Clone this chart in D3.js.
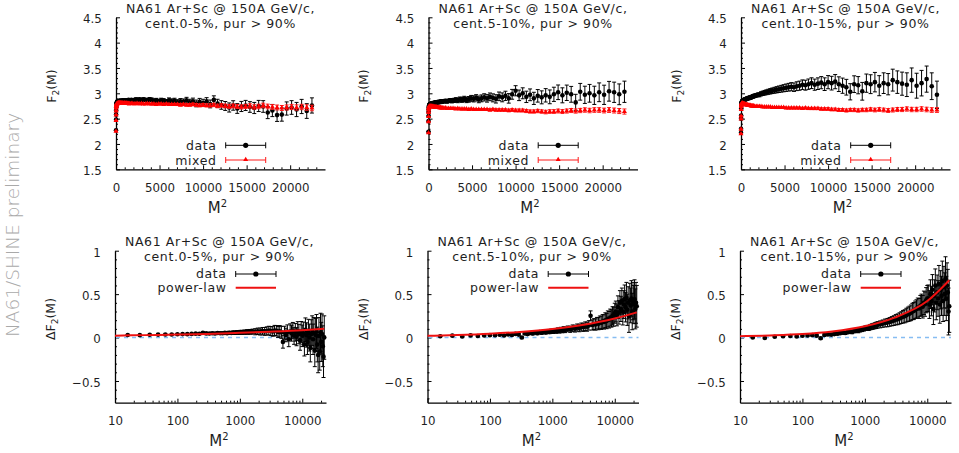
<!DOCTYPE html>
<html>
<head>
<meta charset="utf-8">
<script src="https://d3js.org/d3.v7.min.js"></script>
<style>
body { margin: 0; background: #fff; }
text { font-family: "DejaVu Sans", sans-serif; fill: #1e1e1e; }
.tick text { font-size: 11.8px; }
.domain { stroke: #000; stroke-width: 1.3px; }
.tick line { stroke: #000; }
</style>
</head>
<body>
<div id="chart"></div>
<script>
// M values (M^2 on the x axis)
const Ms = [1,2,3,4,5,6,7,8,9,10,11,12,13,14,15,16,17,18,19,20,21,22,23,24,25,26,27,28,29,30,31,32,33,34,35,36,37,38,39,40,
  42,44,46,48,50,52,54,56,58,60,62,64,66,68,70,72,74,76,78,80,82,84,86,88,90,92,94,96,98,100,
  102,104,106,108,110,112,114,116,118,120,122,124,126,128,130,132,134,136,138,140,142,144,146,148,150];

const centLabels = ["cent.0-5%, pur > 90%", "cent.5-10%, pur > 90%", "cent.10-15%, pur > 90%"];

// ---- F2(M), data ----
const f2Data1 = [2.27,2.48,2.58,2.66,2.72,2.76,2.79,2.80,2.81,2.82,
  2.83,2.83,2.83,2.84,2.84,2.84,2.84,2.85,2.84,2.85,
  2.85,2.84,2.85,2.85,2.84,2.85,2.86,2.85,2.85,2.86,
  2.85,2.86,2.85,2.86,2.86,2.85,2.86,2.87,2.86,2.86,
  2.87,2.86,2.87,2.88,2.87,2.88,2.86,2.88,2.87,2.86,
  2.88,2.87,2.85,2.86,2.84,2.86,2.85,2.83,2.86,2.84,
  2.85,2.82,2.84,2.83,2.86,2.82,2.84,2.80,2.83,2.81,
  2.84,2.79,2.87,2.80,2.77,2.75,2.72,2.76,2.70,2.74,
  2.76,2.73,2.71,2.75,2.74,2.62,2.66,2.57,2.58,2.70,
  2.72,2.68,2.74,2.65,2.76];
const f2DataErr1 = [.005,.005,.005,.005,.005,.006,.006,.006,.007,.007,
  .007,.008,.008,.008,.009,.009,.009,.010,.010,.010,
  .011,.011,.012,.012,.013,.013,.014,.014,.015,.015,
  .016,.016,.017,.017,.018,.018,.019,.020,.020,.021,
  .022,.023,.024,.026,.027,.028,.030,.031,.032,.034,
  .035,.037,.038,.040,.042,.043,.045,.047,.049,.050,
  .052,.054,.056,.058,.060,.062,.065,.067,.069,.072,
  .074,.077,.080,.082,.085,.088,.090,.093,.096,.100,
  .100,.105,.110,.110,.115,.120,.120,.125,.130,.130,
  .135,.140,.140,.145,.150];
const f2Data2 = [2.24,2.45,2.55,2.63,2.68,2.72,2.74,2.76,2.77,2.77,
  2.78,2.78,2.79,2.79,2.79,2.79,2.80,2.80,2.80,2.80,
  2.81,2.80,2.81,2.81,2.81,2.81,2.82,2.81,2.82,2.82,
  2.82,2.82,2.83,2.82,2.83,2.83,2.83,2.84,2.83,2.84,
  2.84,2.85,2.84,2.85,2.86,2.85,2.86,2.87,2.86,2.88,
  2.87,2.89,2.87,2.88,2.90,2.89,2.91,2.88,2.90,2.92,
  2.90,2.93,2.91,2.89,2.94,2.92,2.95,2.90,2.98,3.05,
  2.96,3.00,2.93,2.97,2.90,2.95,2.92,2.96,2.93,2.98,
  3.02,2.96,3.01,2.98,2.82,3.03,2.97,3.00,2.96,3.02,
  2.97,3.04,3.02,2.98,3.03];
const f2DataErr2 = [.005,.005,.005,.006,.006,.006,.007,.007,.007,.008,
  .008,.009,.009,.010,.010,.011,.011,.012,.012,.013,
  .013,.014,.015,.015,.016,.017,.017,.018,.019,.020,
  .020,.021,.022,.023,.024,.025,.026,.027,.028,.029,
  .030,.031,.033,.035,.037,.039,.041,.043,.045,.047,
  .049,.051,.054,.056,.058,.061,.063,.066,.068,.071,
  .074,.076,.079,.082,.085,.088,.091,.094,.097,.100,
  .104,.108,.112,.116,.120,.124,.128,.132,.136,.140,
  .144,.148,.152,.156,.160,.165,.170,.175,.180,.185,
  .190,.195,.200,.205,.210];
const f2Data3 = [2.22,2.30,2.50,2.56,2.70,2.76,2.79,2.81,2.82,2.83,
  2.84,2.84,2.85,2.85,2.86,2.86,2.86,2.87,2.87,2.87,
  2.88,2.88,2.88,2.89,2.89,2.90,2.89,2.90,2.91,2.90,
  2.91,2.92,2.91,2.92,2.93,2.93,2.94,2.94,2.95,2.95,
  2.96,2.97,2.97,2.99,3.00,3.01,3.02,3.03,3.04,3.05,
  3.06,3.07,3.08,3.09,3.10,3.11,3.12,3.13,3.12,3.14,
  3.15,3.17,3.16,3.18,3.20,3.17,3.19,3.21,3.18,3.22,
  3.20,3.23,3.18,3.15,3.12,3.03,3.18,3.16,3.04,3.20,
  3.18,3.22,3.15,3.20,3.18,3.26,3.22,3.19,3.17,3.26,
  3.15,3.20,3.28,3.14,2.97];
const f2DataErr3 = [.005,.005,.006,.006,.006,.007,.007,.008,.008,.009,
  .009,.010,.010,.011,.011,.012,.013,.013,.014,.015,
  .015,.016,.017,.018,.018,.019,.020,.021,.022,.023,
  .024,.025,.026,.027,.028,.029,.030,.031,.032,.033,
  .035,.037,.039,.041,.043,.046,.048,.050,.053,.055,
  .058,.061,.064,.067,.070,.073,.076,.080,.083,.087,
  .090,.094,.098,.102,.106,.110,.115,.120,.125,.130,
  .135,.140,.145,.150,.155,.160,.165,.170,.175,.180,
  .186,.192,.198,.204,.210,.216,.222,.228,.234,.240,
  .246,.252,.258,.264,.270];

// ---- F2(M), mixed events ----
const f2Mix1 = [2.25,2.46,2.57,2.65,2.71,2.74,2.76,2.77,2.78,2.79,
  2.79,2.80,2.80,2.80,2.80,2.80,2.81,2.81,2.80,2.81,
  2.81,2.80,2.81,2.81,2.80,2.81,2.80,2.81,2.80,2.80,
  2.81,2.80,2.80,2.81,2.80,2.80,2.80,2.80,2.79,2.80,
  2.80,2.80,2.79,2.80,2.80,2.79,2.80,2.79,2.79,2.80,
  2.79,2.79,2.79,2.78,2.79,2.79,2.78,2.79,2.78,2.78,
  2.78,2.78,2.77,2.78,2.77,2.77,2.78,2.77,2.76,2.77,
  2.76,2.76,2.77,2.75,2.76,2.75,2.74,2.75,2.74,2.73,
  2.74,2.75,2.73,2.74,2.76,2.74,2.73,2.72,2.71,2.72,
  2.73,2.72,2.73,2.72,2.71];
const f2MixErr1 = [.003,.003,.003,.003,.003,.003,.003,.003,.003,.003,
  .004,.004,.004,.004,.004,.004,.004,.004,.004,.004,
  .005,.005,.005,.005,.005,.005,.005,.005,.005,.005,
  .006,.006,.006,.006,.006,.006,.006,.006,.006,.006,
  .007,.007,.008,.008,.009,.009,.010,.010,.011,.012,
  .012,.013,.014,.015,.015,.016,.017,.018,.019,.020,
  .021,.022,.023,.024,.025,.026,.027,.028,.029,.030,
  .031,.032,.033,.034,.035,.036,.037,.038,.039,.040,
  .041,.042,.043,.044,.045,.046,.047,.048,.049,.050,
  .051,.052,.053,.054,.055];
const f2Mix2 = [2.22,2.44,2.54,2.62,2.67,2.70,2.72,2.73,2.73,2.74,
  2.74,2.74,2.74,2.74,2.74,2.74,2.74,2.74,2.74,2.74,
  2.74,2.73,2.74,2.73,2.73,2.73,2.73,2.73,2.72,2.73,
  2.72,2.72,2.72,2.72,2.72,2.71,2.72,2.71,2.71,2.71,
  2.71,2.71,2.70,2.70,2.70,2.70,2.70,2.69,2.70,2.69,
  2.69,2.69,2.69,2.68,2.69,2.68,2.68,2.68,2.68,2.68,
  2.68,2.67,2.68,2.67,2.67,2.67,2.67,2.66,2.67,2.66,
  2.66,2.66,2.65,2.64,2.64,2.65,2.64,2.63,2.64,2.64,
  2.65,2.64,2.65,2.66,2.65,2.66,2.67,2.66,2.67,2.67,
  2.66,2.67,2.66,2.65,2.64];
const f2MixErr2 = [.003,.003,.003,.003,.003,.003,.003,.003,.003,.004,
  .004,.004,.004,.004,.004,.004,.004,.005,.005,.005,
  .005,.005,.005,.005,.005,.006,.006,.006,.006,.006,
  .006,.006,.007,.007,.007,.007,.007,.007,.007,.008,
  .008,.008,.009,.009,.010,.010,.011,.011,.012,.012,
  .013,.014,.014,.015,.016,.016,.017,.018,.019,.019,
  .020,.021,.022,.023,.023,.024,.025,.026,.027,.028,
  .029,.030,.031,.031,.032,.033,.034,.035,.036,.037,
  .038,.039,.040,.040,.041,.042,.043,.044,.045,.046,
  .047,.048,.049,.050,.051];
const f2Mix3 = [2.20,2.29,2.49,2.55,2.68,2.74,2.77,2.78,2.79,2.80,
  2.80,2.80,2.80,2.80,2.80,2.79,2.79,2.79,2.79,2.79,
  2.78,2.78,2.78,2.78,2.77,2.77,2.77,2.77,2.76,2.76,
  2.76,2.76,2.76,2.75,2.75,2.75,2.75,2.75,2.74,2.74,
  2.74,2.74,2.74,2.74,2.73,2.73,2.73,2.73,2.73,2.72,
  2.72,2.72,2.72,2.72,2.72,2.71,2.71,2.71,2.71,2.71,
  2.71,2.70,2.71,2.70,2.70,2.70,2.70,2.69,2.69,2.69,
  2.68,2.68,2.67,2.67,2.66,2.67,2.67,2.66,2.67,2.67,
  2.68,2.67,2.68,2.67,2.66,2.67,2.68,2.68,2.69,2.68,
  2.68,2.69,2.68,2.67,2.67];
const f2MixErr3 = [.003,.003,.003,.003,.003,.003,.003,.003,.003,.003,
  .003,.004,.004,.004,.004,.004,.004,.004,.004,.004,
  .005,.005,.005,.005,.005,.005,.005,.005,.005,.006,
  .006,.006,.006,.006,.006,.006,.006,.007,.007,.007,
  .007,.008,.008,.009,.009,.010,.010,.011,.011,.012,
  .012,.013,.013,.014,.015,.015,.016,.017,.017,.018,
  .019,.020,.020,.021,.022,.023,.023,.024,.025,.026,
  .027,.027,.028,.029,.030,.031,.032,.032,.033,.034,
  .035,.036,.037,.037,.038,.039,.040,.041,.042,.043,
  .043,.044,.045,.046,.047];

// ---- Delta F2(M), from M = 4 (M^2 = 16) on ----
const dF1 = [0.030,0.028,0.032,0.034,0.036,0.035,0.038,
  0.040,0.039,0.042,0.045,0.043,0.055,0.048,0.046,0.050,0.047,
  0.052,0.050,0.049,0.054,0.051,0.056,0.053,0.058,0.055,0.060,
  0.057,0.062,0.059,0.064,0.061,0.066,0.063,0.068,0.065,0.070,
  0.067,0.072,0.069,0.074,0.071,0.076,0.080,0.075,0.070,0.082,
  0.078,0.065,0.072,0.060,-0.050,0.055,0.030,0.065,-0.020,0.070,
  0.050,0.080,0.020,0.060,0.010,0.075,0.040,-0.030,0.065,0.020,
  0.050,-0.080,0.090,0.030,-0.050,0.060,0.000,-0.120,0.040,0.080,
  -0.020,0.050,-0.150,0.030,0.070,-0.080,-0.200,0.020,-0.160,0.060,
  -0.050,0.040,-0.100,-0.220,0.000];
const dFErr1 = [.005,.005,.006,.006,.007,.007,.008,
  .008,.009,.009,.010,.010,.011,.011,.012,.012,.013,
  .013,.014,.014,.015,.016,.016,.017,.018,.018,.019,
  .020,.021,.021,.022,.023,.024,.025,.025,.026,.027,
  .035,.037,.040,.042,.045,.047,.050,.052,.055,.058,
  .060,.063,.066,.069,.072,.075,.078,.081,.085,.088,
  .091,.094,.098,.101,.104,.108,.112,.116,.120,.124,
  .128,.132,.136,.140,.145,.150,.155,.160,.165,.170,
  .175,.180,.185,.190,.195,.200,.205,.210,.215,.220,
  .225,.230,.235,.240,.250];
const dF2 = [0.015,0.022,0.012,0.025,0.018,0.024,0.028,
  0.026,0.032,0.024,0.036,0.030,0.042,0.034,0.000,0.048,0.040,
  0.052,0.046,0.058,0.050,0.062,0.055,0.066,0.060,0.070,0.065,
  0.075,0.070,0.080,0.074,0.085,0.078,0.090,0.084,0.095,0.088,
  0.100,0.095,0.108,0.102,0.115,0.110,0.122,0.118,0.130,0.125,
  0.140,0.250,0.145,0.155,0.150,0.165,0.160,0.175,0.170,0.185,
  0.180,0.200,0.190,0.215,0.205,0.230,0.220,0.250,0.240,0.280,
  0.300,0.260,0.350,0.290,0.400,0.330,0.420,0.300,0.380,0.440,
  0.350,0.460,0.320,0.400,0.250,0.430,0.370,0.450,0.300,0.420,
  0.380,0.440,0.330,0.400,0.360];
const dFErr2 = [.006,.006,.007,.007,.008,.008,.009,
  .009,.010,.010,.011,.011,.012,.012,.013,.013,.014,
  .015,.015,.016,.017,.017,.018,.019,.020,.020,.021,
  .022,.023,.024,.025,.026,.027,.028,.029,.030,.031,
  .033,.035,.037,.039,.041,.043,.045,.047,.050,.052,
  .054,.057,.059,.062,.065,.067,.070,.073,.076,.079,
  .082,.085,.088,.092,.095,.098,.100,.105,.110,.115,
  .120,.125,.130,.135,.140,.145,.150,.155,.160,.165,
  .170,.175,.180,.185,.190,.195,.200,.205,.210,.215,
  .220,.225,.230,.235,.240];
const dF3 = [0.000,-0.005,0.010,0.015,0.018,0.012,0.020,
  0.024,0.028,0.022,-0.008,0.030,0.036,0.034,0.040,0.045,0.050,
  0.056,0.052,0.062,0.068,0.064,0.075,0.080,0.078,0.088,0.094,
  0.100,0.108,0.112,0.110,0.120,0.126,0.130,0.136,0.140,0.146,
  0.152,0.160,0.168,0.172,0.180,0.188,0.195,0.205,0.210,0.220,
  0.230,0.240,0.245,0.258,0.268,0.275,0.285,0.300,0.305,0.320,
  0.330,0.345,0.335,0.365,0.375,0.355,0.400,0.385,0.430,0.450,
  0.450,0.380,0.500,0.420,0.550,0.330,0.480,0.600,0.400,0.520,
  0.450,0.620,0.380,0.550,0.480,0.650,0.420,0.580,0.500,0.680,
  0.450,0.600,0.520,0.300,0.360];
const dFErr3 = [.006,.007,.007,.008,.008,.009,.009,
  .010,.010,.011,.012,.012,.013,.014,.014,.015,.016,
  .017,.017,.018,.019,.020,.021,.022,.023,.024,.025,
  .026,.027,.028,.029,.031,.032,.033,.034,.036,.037,
  .040,.042,.045,.048,.050,.053,.056,.059,.062,.065,
  .068,.072,.075,.079,.082,.086,.090,.094,.098,.100,
  .105,.110,.115,.120,.125,.130,.135,.140,.145,.150,
  .155,.160,.165,.170,.175,.180,.185,.190,.195,.200,
  .205,.210,.215,.220,.225,.230,.235,.240,.245,.250,
  .255,.260,.265,.270,.300];

// ---- power-law fits, read at these M^2 ----
const fitM2 = [10, 30, 100, 300, 1000, 3000, 10000, 22500];
const fit1 = [0.022, 0.028, 0.034, 0.042, 0.054, 0.067, 0.084, 0.100];
const fit2 = [0.020, 0.029, 0.044, 0.065, 0.099, 0.145, 0.220, 0.290];
const fit3 = [0.015, 0.024, 0.040, 0.070, 0.130, 0.230, 0.420, 0.660];

const topTicksX = [0, 5000, 10000, 15000, 20000];
const topTicksY = [1.5, 2, 2.5, 3, 3.5, 4, 4.5];
const botTicksX = [10, 100, 1000, 10000];
const botTicksY = [-0.5, 0, 0.5, 1];

const W = 959, H = 453;
const plotW = 209;
const topOx = [116, 428.5, 741];
const botOx = [115, 427.5, 740];
const topYr = [169.3, 17.3];
const botYr = [402.7, 250.7];

const svg = d3.select("#chart").append("svg")
    .attr("width", W).attr("height", H);

svg.append("text") // side label
    .attr("transform", "translate(19,225) rotate(-90)")
    .attr("text-anchor", "middle")
    .style("font-size", "18.5px")
    .style("font-weight", "200")
    .style("fill", "#a9a9a9")
    .text("NA61/SHINE preliminary");

function errPath(pts, x, y) {
    return pts.map(p => {
        const px = x(p.m2), y1 = y(p.v - p.e), y2 = y(p.v + p.e);
        return `M${px-2},${y1}h4M${px},${y1}V${y2}M${px-2},${y2}h4`;
    }).join("");
}

function title(ox, y0, cent) {
    const t = svg.append("text")
        .attr("text-anchor", "middle")
        .style("font-size", "12.5px")
        .style("letter-spacing", "0.6px");
    t.append("tspan").attr("x", ox + 104.5).attr("y", y0).text("NA61 Ar+Sc @ 150A GeV/c,");
    t.append("tspan").attr("x", ox + 104.5).attr("y", y0 + 14.8).text(cent);
}

function xLabel(cx, y0) {
    const t = svg.append("text").attr("x", cx).attr("y", y0)
        .attr("text-anchor", "middle").style("font-size", "15px");
    t.append("tspan").text("M");
    t.append("tspan").attr("dy", -6).style("font-size", "10px").text("2");
}

function yLabel(x0, cy, delta) {
    const t = svg.append("text")
        .attr("transform", `translate(${x0},${cy}) rotate(-90)`)
        .attr("text-anchor", "middle").style("font-size", "12.5px");
    t.append("tspan").text(delta ? "\u0394F" : "F");
    t.append("tspan").attr("dy", 3).style("font-size", "9px").text("2");
    t.append("tspan").attr("dy", -3).text("(M)");
}

function legendText(xr, y0, s) {
    svg.append("text").attr("x", xr).attr("y", y0)
        .attr("text-anchor", "end")
        .style("font-size", "12.5px").style("letter-spacing", "0.6px")
        .text(s);
}

function styleAxis(g) {
    g.selectAll(".tick line").attr("stroke-width", 1);
}

function topPanel(i, dat, datErr, mix, mixErr) {
    const ox = topOx[i];
    const x = d3.scaleLinear().domain([0, 24000]).range([ox, ox + plotW]);
    const y = d3.scaleLinear().domain([1.5, 4.5]).range(topYr);

    // minor ticks
    svg.append("g").attr("transform", `translate(0,${topYr[0]})`)
        .call(d3.axisBottom(x).tickValues(d3.range(1000, 24000, 1000).filter(v => v % 5000))
            .tickSize(-2).tickSizeOuter(0).tickFormat(""))
        .call(g => g.select(".domain").remove());
    svg.append("g").attr("transform", `translate(${ox},0)`)
        .call(d3.axisLeft(y).tickValues(d3.range(16, 45).filter(v => v % 5).map(v => v / 10))
            .tickSize(-2).tickSizeOuter(0).tickFormat(""))
        .call(g => g.select(".domain").remove());

    svg.append("g").attr("transform", `translate(0,${topYr[0]})`)
        .call(d3.axisBottom(x).tickValues(topTicksX).tickSize(-4).tickSizeOuter(0).tickPadding(14.2)
            .tickFormat(d3.format("d")))
        .call(styleAxis);
    svg.append("g").attr("transform", `translate(${ox},0)`)
        .call(d3.axisLeft(y).tickValues(topTicksY).tickSize(-4).tickSizeOuter(0).tickPadding(14.3)
            .tickFormat(d3.format("")))
        .call(styleAxis)
        .call(g => g.selectAll(".tick text").attr("dy", "0.45em"));

    const dPts = Ms.map((m, k) => ({m2: m * m, v: dat[k], e: datErr[k]}));
    const mPts = Ms.map((m, k) => ({m2: m * m, v: mix[k], e: mixErr[k]}));

    svg.append("path").attr("d", errPath(dPts, x, y))
        .attr("stroke", "#000").attr("fill", "none").attr("stroke-width", 1);
    svg.append("g").selectAll("circle").data(dPts).join("circle")
        .attr("cx", d => x(d.m2)).attr("cy", d => y(d.v)).attr("r", 2.3).attr("fill", "#000");

    svg.append("path").attr("d", errPath(mPts, x, y))
        .attr("stroke", "#ff1a1a").attr("fill", "none").attr("stroke-width", 1);
    const tri = d3.symbol().type(d3.symbolTriangle).size(11);
    svg.append("g").selectAll("path").data(mPts).join("path")
        .attr("transform", d => `translate(${x(d.m2)},${y(d.v)})`)
        .attr("d", tri).attr("fill", "#ff0000");

    // legend
    legendText(ox + 100.5, 150, "data");
    legendText(ox + 100.5, 164.5, "mixed");
    const lx1 = ox + 109.7, lx2 = ox + 149.7;
    [[145.3, "#000"], [160, "#ff1a1a"]].forEach(([ly, c]) => {
        svg.append("path")
            .attr("d", `M${lx1},${ly}H${lx2}M${lx1},${ly-3}V${ly+3}M${lx2},${ly-3}V${ly+3}`)
            .attr("stroke", c).attr("stroke-width", 1).attr("fill", "none");
    });
    svg.append("circle").attr("cx", (lx1 + lx2) / 2).attr("cy", 145.3).attr("r", 2.6).attr("fill", "#000");
    svg.append("path").attr("transform", `translate(${(lx1 + lx2) / 2},159.6)`)
        .attr("d", tri).attr("fill", "#ff0000");

    title(ox, 13, centLabels[i]);
    xLabel(ox + 101.5, 213);
    yLabel(ox - 60.5, 86, false);
}

function botPanel(i, dv, de, fit) {
    const ox = botOx[i];
    const x = d3.scaleLog().domain([10, 24000]).range([ox, ox + plotW + 2]);
    const y = d3.scaleLinear().domain([-0.75, 1]).range(botYr);

    const minorX = [];
    [10, 100, 1000, 10000].forEach(d => { for (let k = 2; k <= 9; k++) if (k * d < 24000) minorX.push(k * d); });
    svg.append("g").attr("transform", `translate(0,${botYr[0]})`)
        .call(d3.axisBottom(x).tickValues(minorX).tickSize(-2).tickSizeOuter(0).tickFormat(""))
        .call(g => g.select(".domain").remove());
    svg.append("g").attr("transform", `translate(${ox},0)`)
        .call(d3.axisLeft(y).tickValues(d3.range(-7, 10).filter(v => v % 5).map(v => v / 10))
            .tickSize(-2).tickSizeOuter(0).tickFormat(""))
        .call(g => g.select(".domain").remove());

    svg.append("g").attr("transform", `translate(0,${botYr[0]})`)
        .call(d3.axisBottom(x).tickValues(botTicksX).tickSize(-4).tickSizeOuter(0).tickPadding(14.2)
            .tickFormat(d3.format("d")))
        .call(styleAxis);
    svg.append("g").attr("transform", `translate(${ox},0)`)
        .call(d3.axisLeft(y).tickValues(botTicksY).tickSize(-4).tickSizeOuter(0).tickPadding(14.3)
            .tickFormat(d3.format("")))
        .call(styleAxis)
        .call(g => g.selectAll(".tick text").attr("dy", "0.45em"));

    // zero line
    svg.append("line").attr("x1", ox + 1).attr("x2", ox + plotW + 2)
        .attr("y1", y(0)).attr("y2", y(0))
        .attr("stroke", "#86bdf2").attr("stroke-width", 1.6).attr("stroke-dasharray", "4,4");

    const pts = Ms.filter(m => m * m >= 10).map((m, k) => ({m2: m * m, v: dv[k], e: de[k]}));
    svg.append("path").attr("d", errPath(pts, x, y))
        .attr("stroke", "#000").attr("fill", "none").attr("stroke-width", 1);
    svg.append("g").selectAll("circle").data(pts).join("circle")
        .attr("cx", d => x(d.m2)).attr("cy", d => y(d.v)).attr("r", 2.3).attr("fill", "#000");

    const line = d3.line().x(d => x(d[0])).y(d => y(d[1])).curve(d3.curveMonotoneX);
    svg.append("path").attr("d", line(fitM2.map((m, k) => [m, fit[k]])))
        .attr("stroke", "#ee1111").attr("stroke-width", 2).attr("fill", "none");

    legendText(ox + 111.5, 278.3, "data");
    legendText(ox + 111.5, 291.5, "power-law");
    const lx1 = ox + 120.7, lx2 = ox + 161;
    svg.append("path")
        .attr("d", `M${lx1},274H${lx2}M${lx1},271V277M${lx2},271V277`)
        .attr("stroke", "#000").attr("stroke-width", 1).attr("fill", "none");
    svg.append("circle").attr("cx", (lx1 + lx2) / 2).attr("cy", 274).attr("r", 2.6).attr("fill", "#000");
    svg.append("line").attr("x1", lx1).attr("x2", lx2).attr("y1", 287.7).attr("y2", 287.7)
        .attr("stroke", "#ee1111").attr("stroke-width", 2);

    title(ox, 246.3, centLabels[i]);
    xLabel(ox + 104, 446);
    yLabel(ox - 60, 319, true);
}

topPanel(0, f2Data1, f2DataErr1, f2Mix1, f2MixErr1);
topPanel(1, f2Data2, f2DataErr2, f2Mix2, f2MixErr2);
topPanel(2, f2Data3, f2DataErr3, f2Mix3, f2MixErr3);
botPanel(0, dF1, dFErr1, fit1);
botPanel(1, dF2, dFErr2, fit2);
botPanel(2, dF3, dFErr3, fit3);
</script>
</body>
</html>
